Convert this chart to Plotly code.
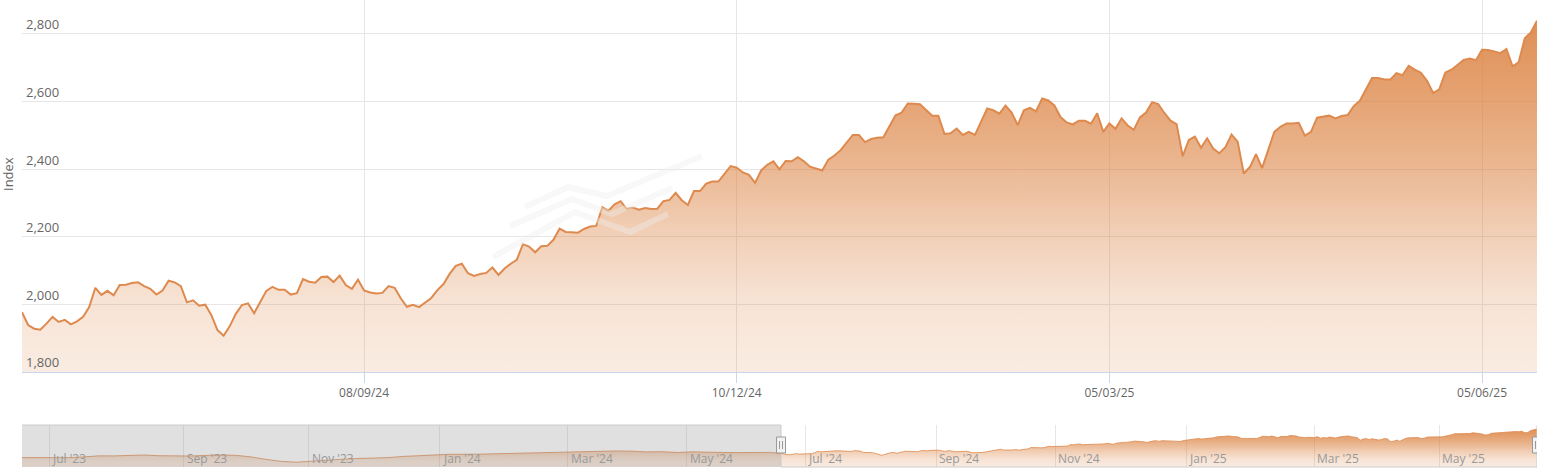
import plotly.graph_objects as go

# ---------------- data ----------------
index_values = [
    1977, 1939, 1928, 1925, 1943, 1963, 1948, 1954, 1941, 1950,
    1963, 1992, 2049, 2028, 2040, 2027, 2057, 2058, 2063, 2065,
    2054, 2046, 2029, 2041, 2070, 2065, 2054, 2006, 2012, 1996,
    1999, 1968, 1924, 1907, 1935, 1972, 1998, 2003, 1974, 2008,
    2040, 2052, 2043, 2043, 2029, 2033, 2075, 2067, 2064, 2081,
    2082, 2066, 2085, 2057, 2046, 2073, 2041, 2035, 2032, 2034,
    2054, 2049, 2018, 1993, 1999, 1992, 2006, 2019, 2042, 2060,
    2090, 2114, 2120, 2092, 2084, 2090, 2093, 2109, 2087, 2106,
    2120, 2132, 2178, 2171, 2154, 2172, 2173, 2191, 2224, 2214,
    2213, 2212, 2223, 2230, 2232, 2287, 2277, 2296, 2305, 2282,
    2286, 2280, 2285, 2282, 2283, 2305, 2309, 2330, 2308, 2294,
    2335, 2335, 2357, 2363, 2363, 2387, 2409, 2404, 2390, 2383,
    2359, 2396, 2413, 2423, 2399, 2424, 2423, 2435, 2423, 2407,
    2401, 2396, 2428, 2440, 2456, 2479, 2501, 2501, 2480, 2489,
    2493, 2494, 2527, 2559, 2567, 2594, 2593, 2592, 2575, 2558,
    2558, 2504, 2506, 2520, 2501, 2510, 2501, 2539, 2579, 2574,
    2564, 2588, 2567, 2530, 2574, 2581, 2571, 2609, 2603, 2588,
    2554, 2538, 2532, 2543, 2543, 2534, 2565, 2510, 2535, 2519,
    2550, 2529, 2516, 2553, 2567, 2598, 2592, 2566, 2543, 2533,
    2438, 2486, 2496, 2463, 2491, 2461, 2447, 2465, 2502, 2481,
    2387, 2406, 2444, 2403, 2456, 2510, 2525, 2535, 2535, 2537,
    2499, 2510, 2552, 2554, 2558, 2550, 2557, 2560, 2586, 2602,
    2636, 2669, 2669, 2665, 2665, 2684, 2678, 2705, 2694, 2685,
    2661, 2625, 2636, 2686, 2694, 2708, 2723, 2727, 2722, 2753,
    2752, 2748, 2743, 2755, 2704, 2716, 2787, 2804, 2839,
]

# earlier history shown only in the navigator (every 5th trading day)
history_values = [
    1824, 1822, 1805, 1820, 1845, 1885, 1884, 1905, 1915, 1890,
    1883, 1880, 1900, 1916, 1905, 1850, 1760, 1690, 1660, 1700,
    1750, 1765, 1790, 1800, 1822, 1865, 1900, 1915, 1940, 1932,
    1945, 1958, 1970, 1978, 1998, 2012, 2034, 2040, 2052, 2060,
    2052, 2026, 2034, 2004, 2028, 2030, 2005, 2001, 2010, 2008,
]
history_step = 5

main_tick_index = [56, 117, 178, 239]
main_tick_labels = ["08/09/24", "10/12/24", "05/03/25", "05/06/25"]

nav_month_index = [-240, -196, -155, -112, -70, -31, 8, 51, 90, 133, 175, 216]
nav_month_labels = ["Jul '23", "Sep '23", "Nov '23", "Jan '24", "Mar '24", "May '24",
                    "Jul '24", "Sep '24", "Nov '24", "Jan '25", "Mar '25", "May '25"]

y_ticks = [1800, 2000, 2200, 2400, 2600, 2800]

# ---------------- layout helpers ----------------
W, H = 1555, 476
ML, MR, MT, MB = 22, 18, 0, 9
PLOT_H = H - MT - MB
PLOT_W = W - ML - MR


def py(p):
    return (H - MB - p) / PLOT_H


def px(p):
    return (p - ML) / PLOT_W


n = len(index_values)
x_main = list(range(n))
x_hist = list(range(-history_step * len(history_values) + 1, 0, history_step))

LINE = "#de8a4e"
BASE = "219,128,62"
fill_scale = [
    [0.0, f"rgba({BASE},0.15)"],
    [0.2, f"rgba({BASE},0.22)"],
    [0.4, f"rgba({BASE},0.38)"],
    [0.6, f"rgba({BASE},0.58)"],
    [0.8, f"rgba({BASE},0.74)"],
    [1.0, f"rgba({BASE},0.88)"],
]

fig = go.Figure()
fig.add_trace(go.Scatter(
    x=x_main, y=index_values, mode="lines",
    line=dict(color=LINE, width=2),
    fill="tozeroy",
    fillgradient=dict(type="vertical", colorscale=fill_scale, start=1800, stop=2840),
    xaxis="x", yaxis="y", hoverinfo="skip", showlegend=False,
))
fig.add_trace(go.Scatter(
    x=x_hist + x_main, y=history_values + index_values, mode="lines",
    line=dict(color="rgba(222,138,78,0.8)", width=1),
    fill="tozeroy",
    fillgradient=dict(type="vertical", colorscale=fill_scale, start=1490, stop=2840),
    xaxis="x2", yaxis="y2", hoverinfo="skip", showlegend=False,
))

shapes = []
# navigator mask over the unselected range
shapes.append(dict(type="rect", xref="x2", yref="y2 domain", x0=x_hist[0], x1=0, y0=0, y1=1,
                   fillcolor="rgba(140,140,140,0.27)", line=dict(width=0), layer="above"))
# navigator outline
OUT = "#cccccc"
for (xa, ya, xb, yb) in [(x_hist[0], 1, 0, 1), (0, 1, 0, 0), (0, 0, n - 1, 0), (n - 1, 0, n - 1, 1)]:
    shapes.append(dict(type="line", xref="x2", yref="y2 domain", x0=xa, y0=ya, x1=xb, y1=yb,
                       line=dict(color=OUT, width=1), layer="above"))
# handles
for xv in [0, n - 1]:
    shapes.append(dict(type="rect", xref="x2", xsizemode="pixel", xanchor=xv, x0=-4.5, x1=4.5,
                       yref="paper", ysizemode="pixel", yanchor=py(445), y0=-8, y1=8,
                       fillcolor="#f2f2f2", line=dict(color="#999999", width=1), layer="above"))
    for dx in (-1.5, 1.5):
        shapes.append(dict(type="line", xref="x2", xsizemode="pixel", xanchor=xv, x0=dx, x1=dx,
                           yref="paper", ysizemode="pixel", yanchor=py(445), y0=-4, y1=4,
                           line=dict(color="#999999", width=1), layer="above"))

# faint watermark logo
logo_strokes = [
    [(525, 207), (568, 187), (607, 196), (702, 156)],
    [(510, 226), (572, 199), (612, 214), (672, 188)],
    [(493, 257), (575, 212), (630, 232), (668, 214)],
]
for stroke in logo_strokes:
    path = "M " + " L ".join(f"{px(a):.5f},{py(b):.5f}" for a, b in stroke)
    shapes.append(dict(type="path", xref="paper", yref="paper", path=path,
                       line=dict(color="rgba(238,238,238,0.4)", width=6), layer="above"))

annotations = [dict(text="Index", xref="paper", yref="paper", x=px(8), y=py(174),
                    textangle=-90, showarrow=False, xanchor="center", yanchor="middle",
                    font=dict(size=13, color="#666666"))]
for xi, lab in zip(nav_month_index, nav_month_labels):
    annotations.append(dict(text=lab, xref="x2", yref="paper", x=xi, y=py(458),
                            xanchor="left", yanchor="middle", xshift=1, showarrow=False,
                            font=dict(size=12, color="#999999")))

fig.update_layout(
    width=W, height=H,
    margin=dict(l=ML, r=MR, t=MT, b=MB, pad=0),
    paper_bgcolor="white", plot_bgcolor="rgba(0,0,0,0)",
    font=dict(family="Open Sans, sans-serif", color="#666666"),
    showlegend=False,
    xaxis=dict(domain=[0, 1], anchor="y", range=[0, n - 1],
               tickmode="array", tickvals=main_tick_index, ticktext=main_tick_labels,
               ticks="outside", ticklen=10, tickcolor="#ccd6eb", tickwidth=1,
               showline=True, linecolor="#ccd6eb", linewidth=1,
               showgrid=True, gridcolor="#e6e6e6", gridwidth=1, zeroline=False,
               tickfont=dict(size=12, color="#666666")),
    yaxis=dict(domain=[py(372), 1], anchor="x", range=[1800, 2900],
               tickmode="array", tickvals=y_ticks, tickformat=",",
               ticklabelposition="inside top", ticks="", ticklabelstandoff=1,
               ticklabelshift=0,
               showgrid=True, gridcolor="#e6e6e6", gridwidth=1,
               zeroline=False, showline=False,
               tickfont=dict(size=13, color="#666666")),
    xaxis2=dict(domain=[0, 1], anchor="y2", range=[x_hist[0], n - 1],
                tickmode="array", tickvals=nav_month_index, showticklabels=False, ticks="",
                showgrid=True, gridcolor="#e6e6e6", zeroline=False, showline=False),
    yaxis2=dict(domain=[0, py(425)], anchor="x2", range=[1490, 2980],
                showgrid=False, showticklabels=False, zeroline=False, showline=False),
    shapes=shapes,
    annotations=annotations,
)

fig.write_html(
    "out.html",
    config={"displayModeBar": False},
    post_script="document.body.style.margin='0';document.body.style.overflow='hidden';",
)
